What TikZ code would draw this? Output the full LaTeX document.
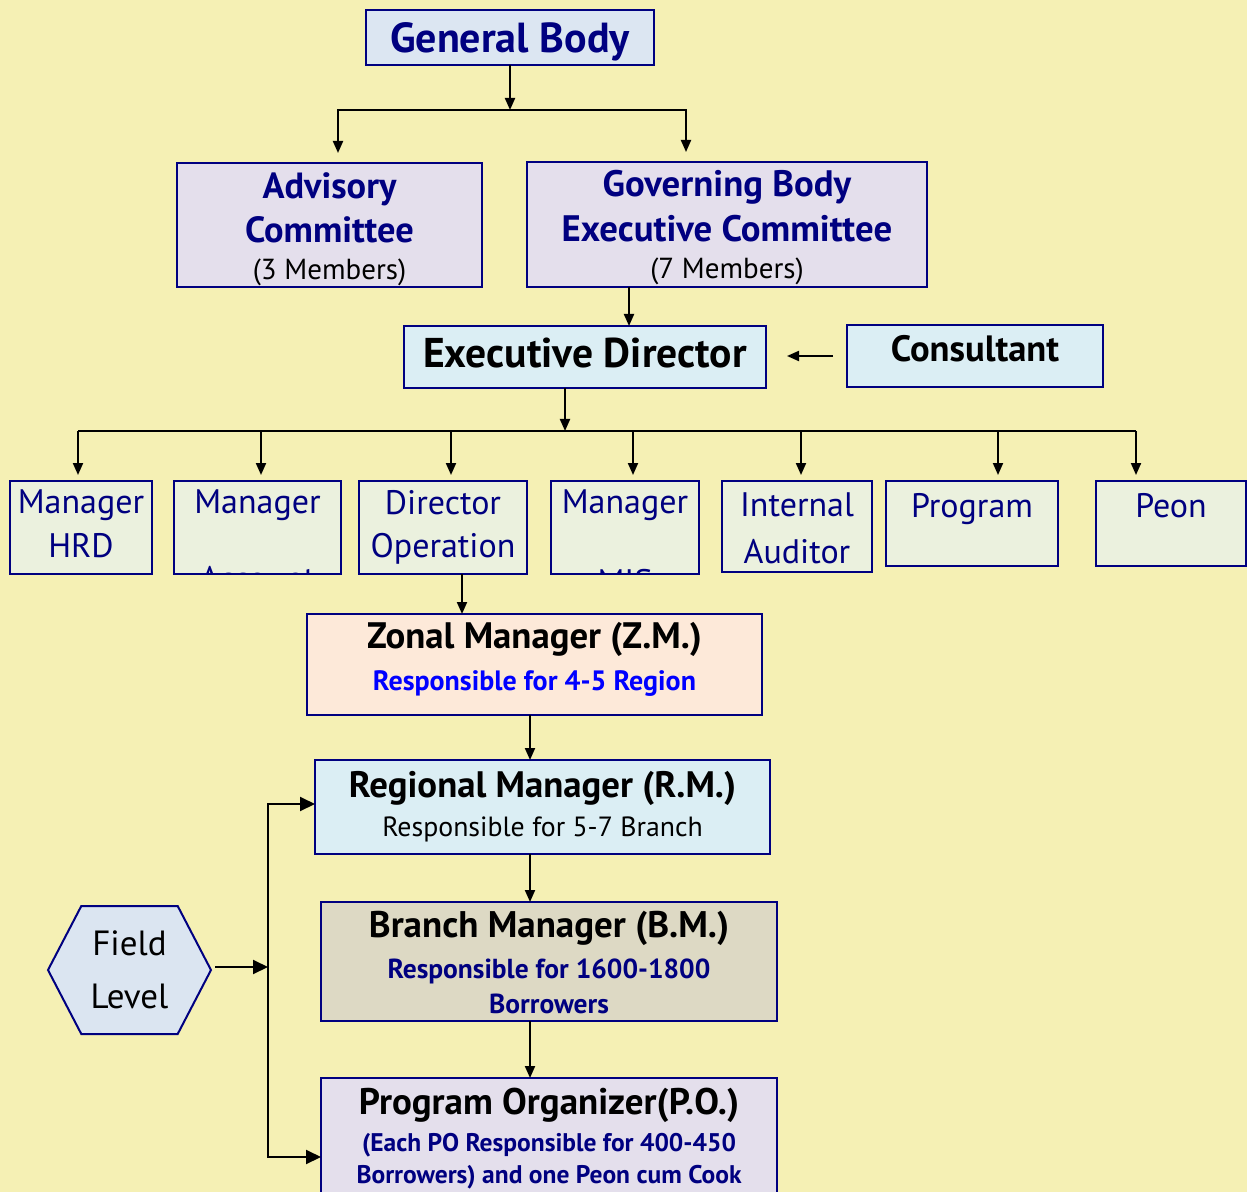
\documentclass[tikz,border=0pt]{standalone}
\usepackage{fontspec}
\setmainfont{PT Sans}
\usetikzlibrary{shapes.symbols, arrows.meta, positioning}

\definecolor{bgyellow}{HTML}{F5F0B4}
\definecolor{edgeblue}{HTML}{000080}
\definecolor{navytext}{HTML}{000080}
\definecolor{gbfill}{HTML}{DCE6F2}
\definecolor{lavfill}{HTML}{E4DFEC}
\definecolor{skyfill}{HTML}{DBEEF4}
\definecolor{mintfill}{HTML}{EBF1DE}
\definecolor{peachfill}{HTML}{FDE9D9}
\definecolor{tanfill}{HTML}{DDD9C4}
\definecolor{hexfill}{HTML}{DBE5F1}

\newcommand{\fsz}[2]{\fontsize{#1}{#2}\selectfont}
\newcommand{\upstrut}[1]{\rule{0pt}{#1}}
\newcommand{\downstrut}[1]{\rule[-#1]{0pt}{#1}}

\begin{document}
\begin{tikzpicture}[
    x=0.5pt, y=-0.5pt,
    every node/.style={inner sep=0pt, outer sep=0pt},
    box/.style={draw=edgeblue, line width=1pt, rectangle, align=center},
    rowbox/.style={box, fill=mintfill, minimum height=46.5pt},
    rowtext/.style={anchor=north, align=center, text=navytext, font=\fsz{17}{21.75}},
    line/.style={line width=1pt},
    arrow/.style={-{Triangle[length=6pt, width=5pt]}, line width=1pt},
    bigarrow/.style={-{Triangle[length=7.5pt, width=7pt]}, line width=1pt}
]
    \useasboundingbox (0,0) rectangle (1247,1192);
    \fill[bgyellow] (0,0) rectangle (1247,1192);
    \clip (0,0) rectangle (1247,1192);

    % top of the chart
    \node[box, fill=gbfill, minimum width=144pt, minimum height=27.5pt, text=navytext, font=\bfseries\fsz{21}{25}] (genbody) at (510,37.5) {\upstrut{19.5pt}General Body};
    \node[box, fill=lavfill, minimum width=152.5pt, minimum height=62pt, font=\bfseries\fsz{18.2}{22}] (advisory) at (329.5,225)
        {\upstrut{17.5pt}\textcolor{navytext}{Advisory}\\\textcolor{navytext}{Committee}\\[-3.5pt]{\normalfont\fsz{14.5}{17}(3 Members)}};
    \node[box, fill=lavfill, minimum width=200pt, minimum height=62.5pt, font=\bfseries\fsz{18.4}{22.5}] (governing) at (727,224.5)
        {\upstrut{16.5pt}\textcolor{navytext}{Governing Body}\\\textcolor{navytext}{Executive Committee}\\[-4pt]{\normalfont\fsz{14.5}{17}(7 Members)}};
    \node[box, fill=skyfill, minimum width=181pt, minimum height=31pt, font=\bfseries\fsz{20.8}{24}] (execdir) at (585,357) {\downstrut{4pt}Executive Director};
    \node[box, fill=skyfill, minimum width=128pt, minimum height=31pt, text depth=8pt, font=\bfseries\fsz{18.3}{21}] (consultant) at (975,356) {Consultant};

    % row of departments
    \node[rowbox, minimum width=71pt] (hrd) at (81,527.5) {};
    \node[rowbox, minimum width=83.5pt] (account) at (257.5,527.5) {};
    \node[rowbox, minimum width=84pt] (dirop) at (443,527.5) {};
    \node[rowbox, minimum width=74pt] (mis) at (625,527.5) {};
    \node[rowbox, minimum width=75pt, minimum height=45.5pt] (auditor) at (797,526.5) {};
    \node[rowbox, minimum width=86pt, minimum height=42.5pt] (program) at (972,523.5) {};
    \node[rowbox, minimum width=75pt, minimum height=42.5pt] (peon) at (1171,523.5) {};

    \node[rowtext, below=4.5pt of hrd.north] (hrdtext) {Manager\\HRD};
    \begin{scope}
        \clip (account.south west) rectangle (account.north east);
        \node[rowtext, below=4.5pt of account.north] (accounttext) {Manager\\[16.75pt]Account};
    \end{scope}
    \node[rowtext, below=4.5pt of dirop.north] (diroptext) {Director\\Operation};
    \begin{scope}
        \clip (mis.south west) rectangle (mis.north east);
        \node[rowtext, below=4.5pt of mis.north] (mistext) {Manager\\[18.25pt]MIS};
    \end{scope}
    \node[rowtext, below=6pt of auditor.north] (auditortext) {Internal\\[1.5pt]Auditor};
    \node[rowtext, below=6pt of program.north] (programtext) {Program};
    \node[rowtext, below=6pt of peon.north] (peontext) {Peon};

    % field hierarchy
    \node[box, fill=peachfill, minimum width=227.5pt, minimum height=50.5pt, text depth=8pt, font=\bfseries\fsz{18.4}{21}] (zonal) at (534.5,664.5)
        {Zonal Manager (Z.M.)\\{\color{blue}\fsz{14}{16}Responsible for 4-5 Region}};
    \node[box, fill=skyfill, minimum width=227.5pt, minimum height=47pt, font=\bfseries\fsz{18.4}{19.5}] (regional) at (542.5,807)
        {Regional Manager (R.M.)\\{\normalfont\fsz{13.9}{16}Responsible for 5-7 Branch}};
    \node[box, fill=tanfill, minimum width=228pt, minimum height=59.5pt, font=\bfseries\fsz{18.5}{20.5}] (branch) at (549,961.5)
        {\upstrut{14pt}Branch Manager (B.M.)\\{\color{navytext}\fsz{13.75}{16}Responsible for 1600-1800}\\[-3pt]{\color{navytext}\fsz{13.75}{16}Borrowers}};
    \node[box, fill=lavfill, minimum width=228pt, minimum height=61pt, font=\bfseries\fsz{18.5}{18.5}] (po) at (549,1139)
        {Program Organizer(P.O.)\\{\color{navytext}\fsz{12.75}{15}(Each PO Responsible for 400-450}\\[-2.5pt]{\color{navytext}\fsz{12.75}{15}Borrowers) and one Peon cum Cook}};
    \node[draw=edgeblue, line width=1pt, fill=hexfill, signal, signal to=west and east, signal pointer angle=125,
          minimum width=81.5pt, minimum height=64pt, align=center, font=\fsz{17.5}{26.5}] (field) at (129.5,970) {Field\\Level};

    \coordinate (split1) at (510,110);
    \coordinate (split2) at (565,431);
    \coordinate (fieldbus) at (268,967);

    % connectors
    \draw[arrow] (genbody) -- (split1);
    \draw[arrow, shorten >=5pt] (split1) -| ([xshift=4.25pt]advisory.north);
    \draw[arrow, shorten >=5pt] (split1) -| ([xshift=-20.5pt]governing.north);
    \draw[arrow] ([xshift=-49pt]governing.south) -- ([xshift=-49pt]governing.south |- execdir.north);
    \draw[arrow, shorten <=7pt, shorten >=10.5pt] (consultant.west) -- (consultant.west -| execdir.east);
    \draw[arrow] ([xshift=-10pt]execdir.south) -- (split2);
    \draw[line] ([xshift=-1.5pt]hrd.north |- split2) -- ([xshift=-17.5pt]peon.north |- split2);
    \foreach \nm/\dx in {hrd/-1.5, account/1.75, dirop/4, mis/4, auditor/2, program/13, peon/-17.5}
        \draw[arrow, shorten >=3pt] ([xshift=\dx pt]\nm.north |- split2) -- ([xshift=\dx pt]\nm.north);
    \draw[arrow] ([xshift=9.5pt]dirop.south) -- ([xshift=9.5pt]dirop.south |- zonal.north);
    \draw[arrow] ([xshift=-2.25pt]zonal.south) -- ([xshift=-2.25pt]zonal.south |- regional.north);
    \draw[arrow] ([xshift=-6.25pt]regional.south) -- ([xshift=-6.25pt]regional.south |- branch.north);
    \draw[arrow] ([xshift=-9.5pt]branch.south) -- ([xshift=-9.5pt]branch.south |- po.north);
    \draw[bigarrow, shorten <=2pt] (field.east |- fieldbus) -- (fieldbus);
    \draw[bigarrow] (fieldbus) |- ([yshift=1.5pt]regional.west);
    \draw[bigarrow] (fieldbus) |- ([yshift=-9pt]po.west);
\end{tikzpicture}
\end{document}
